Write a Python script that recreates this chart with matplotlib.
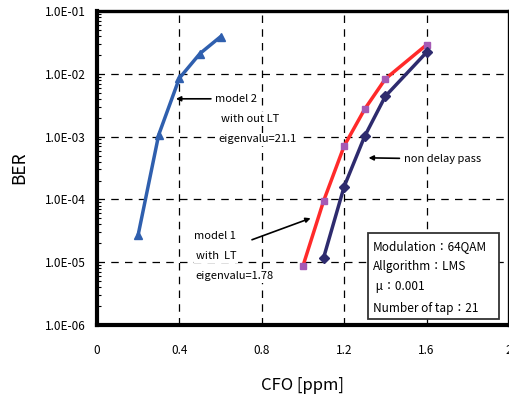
import matplotlib
matplotlib.use("Agg")
import matplotlib.pyplot as plt
from matplotlib.patches import Rectangle
from matplotlib.ticker import LogLocator, NullFormatter

plt.rcParams['font.family'] = ['Noto Sans CJK JP', 'DejaVu Sans']

# model 2 (without LT)
cfo_m2 = [0.2, 0.3, 0.4, 0.5, 0.6]
ber_m2 = [2.7e-5, 1.07e-3, 8.5e-3, 2.1e-2, 3.9e-2]

# model 1 (with LT)
cfo_m1 = [1.0, 1.1, 1.2, 1.3, 1.4, 1.6]
ber_m1 = [8.7e-6, 9.4e-5, 7.1e-4, 2.75e-3, 8.3e-3, 2.9e-2]

# non delay pass
cfo_nd = [1.1, 1.2, 1.3, 1.4, 1.6]
ber_nd = [1.17e-5, 1.6e-4, 1.02e-3, 4.4e-3, 2.2e-2]

xticks = [0, 0.4, 0.8, 1.2, 1.6, 2.0]
xticklabels = ['0', '0.4', '0.8', '1.2', '1.6', '2']
yticks = [1e-6, 1e-5, 1e-4, 1e-3, 1e-2, 1e-1]
yticklabels = ['1.0E-06', '1.0E-05', '1.0E-04', '1.0E-03', '1.0E-02', '1.0E-01']

box_lines = ['Modulation：64QAM', 'Allgorithm：LMS', ' μ：0.001', 'Number of tap：21']

fig = plt.figure(figsize=(5.1, 4.01), dpi=100)
ax = fig.add_axes([0.190, 0.1895, 0.808, 0.783])

ax.plot(cfo_m2, ber_m2, color='#2f5fae', lw=2.5, marker='^', ms=6, zorder=3)
ax.plot(cfo_m1, ber_m1, color='#ff2a2a', lw=2.5, marker='s', ms=5,
        mfc='#a55ab5', mec='#a55ab5', zorder=3)
ax.plot(cfo_nd, ber_nd, color='#2e2b6e', lw=2.5, marker='D', ms=5, zorder=4)

ax.set_yscale('log')
ax.set_xlim(0, 2.0)
ax.set_ylim(1e-6, 1e-1)
ax.set_xticks(xticks)
ax.set_xticklabels(xticklabels, fontsize=8.5)
ax.set_yticks(yticks)
ax.set_yticklabels(yticklabels, fontsize=8.5)
ax.yaxis.set_minor_locator(LogLocator(base=10, subs=range(2, 10)))
ax.yaxis.set_minor_formatter(NullFormatter())
ax.tick_params(axis='x', which='both', length=0, pad=14)
ax.tick_params(axis='y', which='major', length=0, pad=8)
ax.tick_params(axis='y', which='minor', direction='in', length=3, width=0.8)

ax.grid(True, which='major', color='black', ls=(0, (6, 5)), lw=0.9)
for s in ax.spines.values():
    s.set_linewidth(2.4)
ax.spines['left'].set_linewidth(3)
ax.spines['bottom'].set_linewidth(3)

ax.set_xlabel('CFO [ppm]', fontsize=12, labelpad=14)
ax.set_ylabel('BER', fontsize=12.5, labelpad=12)

fs = 8
wb = dict(boxstyle='square,pad=0.15', fc='white', ec='none')
arr = dict(arrowstyle='-|>', color='black', lw=1.2, mutation_scale=7)

ax.annotate('model 2', xy=(0.37, 4.0e-3), xytext=(0.575, 4.0e-3), fontsize=fs,
            va='center', bbox=wb, arrowprops=arr)
ax.text(0.6, 1.9e-3, 'with out LT', fontsize=fs, va='center', bbox=wb)
ax.text(0.59, 9.0e-4, 'eigenvalu=21.1', fontsize=fs, va='center', bbox=wb)

ax.annotate('non delay pass', xy=(1.305, 4.6e-4), xytext=(1.49, 4.4e-4), fontsize=fs,
            va='center', bbox=wb, arrowprops=arr)

ax.text(0.47, 2.6e-5, 'model 1', fontsize=fs, va='center', bbox=wb)
ax.text(0.48, 1.25e-5, 'with  LT', fontsize=fs, va='center', bbox=wb)
ax.text(0.48, 6.0e-6, 'eigenvalu=1.78', fontsize=fs, va='center', bbox=wb)
ax.annotate('', xy=(1.05, 5.2e-5), xytext=(0.74, 2.2e-5), arrowprops=arr)

# parameter box
ax.add_patch(Rectangle((1.316, 1.25e-6), 0.635, 2.92e-5 - 1.25e-6, fc='white',
                       ec='#333333', lw=1.3, zorder=5))
box_y = [1.81e-5, 8.4e-6, 4.03e-6, 1.8e-6]
for txt, yy in zip(box_lines, box_y):
    ax.text(1.338, yy, txt, fontsize=8.5, va='center', ha='left', zorder=6)

fig.savefig('out.png', dpi=100)
